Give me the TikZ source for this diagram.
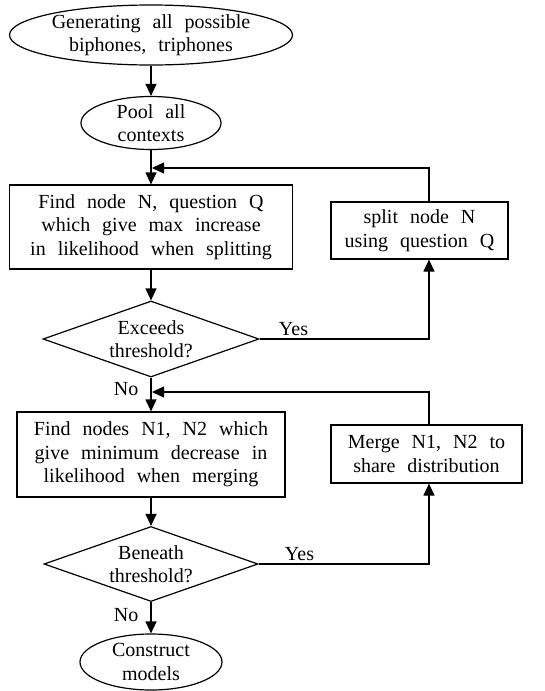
\documentclass[tikz,border=0pt]{standalone}
\usepackage{fontspec}
\setmainfont{Liberation Serif}[WordSpace=2.4]
\usepackage{tikz}
\usetikzlibrary{shapes,arrows.meta}
\newcommand{\fcterminal}[5] {\node at (#1) (#2) [ellipse, draw, inner xsep=0pt, inner ysep=-3pt, minimum width=#3, minimum height=#4, align=center] {#5};}
\newcommand{\fcprocess}[5] {\node at (#1) (#2) [rectangle, draw, inner sep=0pt, minimum width=#3, minimum height=#4, align=center] {#5};}
\newcommand{\fcdecision}[5] {\node at (#1) (#2) [diamond, draw, aspect=2.85, inner sep=0pt, minimum width=#3, minimum height=#4, align=center] {#5};}
\newcommand{\fcflow}[2] {\draw [->] (#1) -- (#2);}
\newcommand{\fcnoflow}[3] {\draw [->] (#1) -- node [pos=#3, left, inner sep=0pt, xshift=-12pt] {No} (#2);}
\newcommand{\fcyesflow}[3] {\draw [->] (#1) -- node [pos=#3, above, inner sep=3pt] {Yes} (#1 -| rail) -- (#2 -| rail);}
\newcommand{\fcloopback}[2] {\draw [->] (#1 -| rail) |- (#2);}

\begin{document}
\begin{tikzpicture}[x=1pt, y=-1pt, line width=1.2pt, >={Triangle[length=12pt, width=11pt]}, font={\fontsize{20pt}{23.5pt}\selectfont}]
\useasboundingbox (0,0) rectangle (545,691);
\coordinate (rail) at (429,0);
\coordinate (join1) at (152,168);
\coordinate (join2) at (152,392);

\fcterminal {151,35} {gen} {283pt} {60pt} {Generating all possible\\biphones, triphones};
\fcterminal {151,123} {pool} {140pt} {53pt} {Pool all\\contexts};
\fcprocess {151,227} {findsplit} {283pt} {84pt} {Find node N, question Q\\which give max increase\\in likelihood when splitting};
\fcdecision {151,339} {exceeds} {216pt} {76pt} {Exceeds\\threshold?};
\fcprocess {419.5,230.5} {split} {177pt} {57pt} {split node N\\using question Q};
\fcprocess {151,454.5} {findmerge} {268pt} {85pt} {Find nodes N1, N2 which\\give minimum decrease in\\likelihood when merging};
\fcdecision {151,564} {beneath} {214pt} {75pt} {Beneath\\threshold?};
\fcprocess {426.5,454} {merge} {191pt} {58pt} {Merge N1, N2 to\\share distribution};
\fcterminal {151,662} {construct} {142pt} {56pt} {Construct\\models};

\fcflow{gen.south}{pool.north};
\fcflow{pool.south}{findsplit.north};
\fcflow{findsplit.south}{exceeds.north};
\fcyesflow{exceeds.east}{split.south}{0.2};
\fcloopback{split.north}{join1};
\fcnoflow{exceeds.south}{findmerge.north}{0.35};
\fcflow{findmerge.south}{beneath.north};
\fcyesflow{beneath.east}{merge.south}{0.24};
\fcloopback{merge.north}{join2};
\fcnoflow{beneath.south}{construct.north}{0.4};
\end{tikzpicture}
\end{document}
